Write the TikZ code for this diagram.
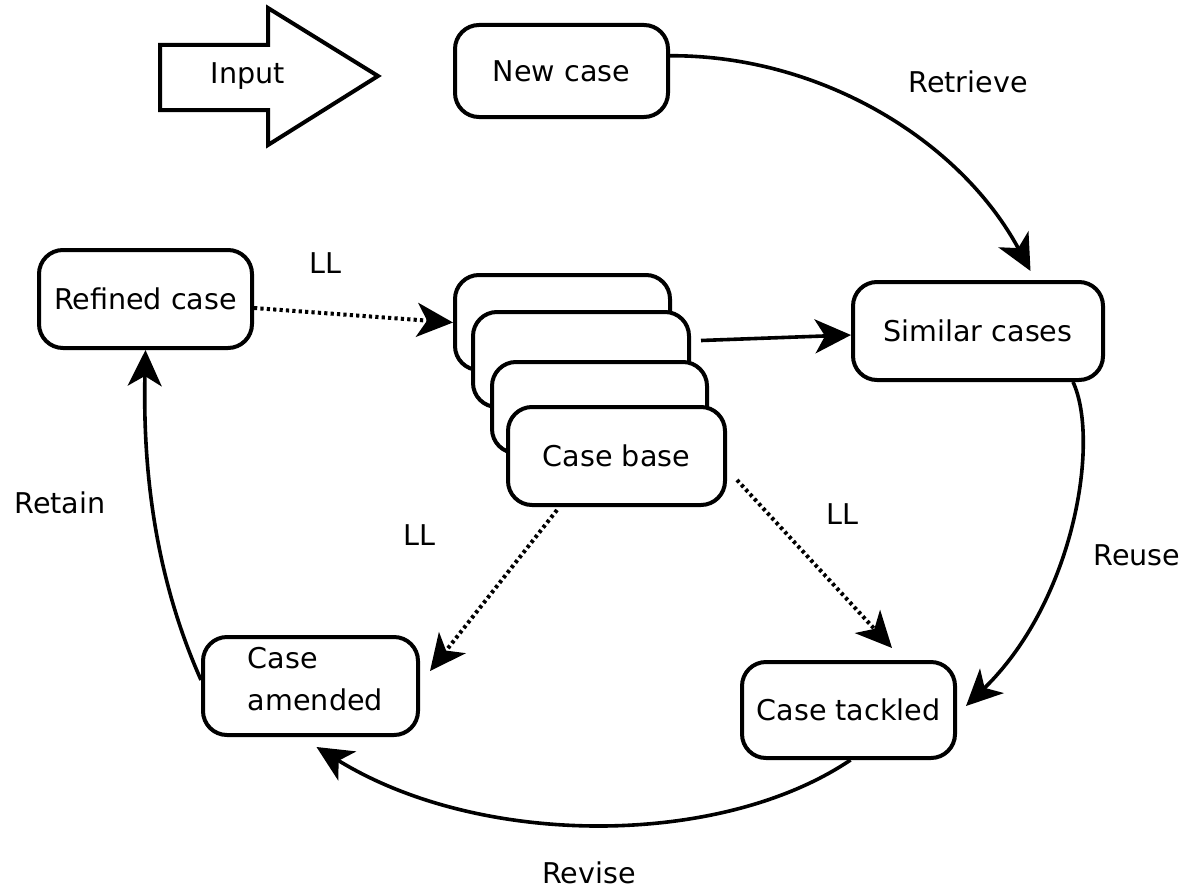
\documentclass[tikz,border=0pt]{standalone}
\usepackage{fontspec}
\setmainfont{DejaVu Sans}
\usetikzlibrary{arrows.meta}
\begin{document}
\begin{tikzpicture}[x=0.5pt,y=-0.5pt,
  every node/.style={font=\fontsize{14.3pt}{21pt}\selectfont, inner sep=0pt},
  box/.style={draw, line width=2pt, rounded corners=12pt, fill=white, align=center},
  conn/.style={line width=1.8pt, -{Stealth[length=18pt,width=17pt,inset=5pt]}},
  dotconn/.style={conn, line width=2pt, dash pattern=on 1.6pt off 1.6pt}
]
\useasboundingbox (0,0) rectangle (1197,888);

% Input block arrow
\draw[line width=2pt, line join=miter] (160,45) -- (268,45) -- (268,8) -- (378,76) -- (268,145) -- (268,110) -- (160,110) -- cycle;
\node (input) at (248,76) {Input};

% main boxes
\node[box, minimum width=106.5pt, minimum height=46pt] (newcase) at (561.5,71) {New case};
\node[box, minimum width=125pt, minimum height=49pt] (similar) at (978,331) {Similar cases};
\node[box, minimum width=106.5pt, minimum height=48pt] (tackled) at (848.5,710) {Case tackled};
\node[box, align=left, minimum width=107.5pt, minimum height=49pt] (amended) at (310.5,686) {\hspace*{5pt}Case\\\hspace*{5pt}amended\\[-14pt]\mbox{}};
\node[box, minimum width=106.5pt, minimum height=49pt] (refined) at (145.5,299) {Refined case};

% case base stack
\node[box, minimum width=107.5pt, minimum height=47.5pt] (b1) at (562.5,322.5) {};
\node[box, minimum width=108pt, minimum height=47.5pt] (b2) at (581,359.5) {};
\node[box, minimum width=107.5pt, minimum height=45.5pt] (b3) at (599.5,407.5) {};
\node[box, minimum width=108.5pt, minimum height=49pt] (b4) at (616.5,456) {Case base};

% labels
\node (lretrieve) at (968,82) {Retrieve};
\node (lreuse) at (1137,555) {Reuse};
\node (lrevise) at (589,873) {Revise};
\node (lretain) at (60,503) {Retain};
\node (ll1) at (325,263) {LL};
\node (ll2) at (419,535) {LL};
\node (ll3) at (842,514) {LL};

% cycle connectors
\draw[conn] (newcase.8.5) .. controls (820,55) and (960,140) .. ([xshift=26.25pt,yshift=4.5pt]similar.north);
\draw[conn] ([xshift=47.5pt]similar.south) .. controls (1100,440) and (1075,600) .. ([xshift=4.5pt,yshift=2pt]tackled.east);
\draw[conn] ([xshift=1pt]tackled.south) .. controls (720,848) and (480,848) .. ([xshift=3pt,yshift=-5pt]amended.south);
\draw[conn] ([yshift=3pt]amended.west) .. controls (152,570) and (143,460) .. (refined.south);

% case base connectors
\draw[dotconn] ([yshift=-4.5pt]refined.east) -- (b1.west);
\draw[conn] ([xshift=5pt,yshift=9.5pt]b2.east) -- ([yshift=-2pt]similar.west);
\draw[dotconn] ([xshift=-29.75pt,yshift=-1.5pt]b4.south) -- ([xshift=5pt,yshift=7.5pt]amended.east);
\draw[dotconn] ([xshift=5pt,yshift=-12pt]b4.east) -- ([xshift=21.75pt,yshift=6pt]tackled.north);
\end{tikzpicture}
\end{document}
